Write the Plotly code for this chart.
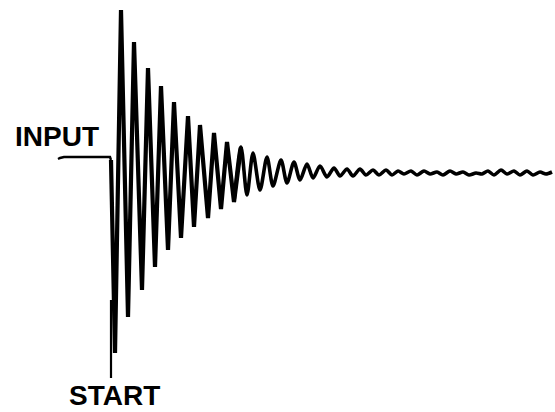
import plotly.graph_objects as go

# Trace, in picture units (x: time, y: deflection, down positive)
input_x = [58, 60, 64, 75, 90, 100, 110, 111]
input_y = [159, 158, 157, 157, 157.5, 157, 157, 160]

# Large oscillation extrema (trough / peak alternating)
main_x = [111, 115, 121, 128, 134, 142, 148, 155, 161, 168, 174, 181, 188, 194, 200,
          208, 214, 221, 227, 234, 241]
main_y = [160, 353, 10, 317, 42, 290, 68, 267, 86, 250, 102, 238, 116, 227, 125,
          218, 133, 209, 142, 202, 147]

# Decaying tail extrema
tail_x = [234, 241, 247, 253, 260, 267, 273, 281, 287, 294, 300, 307, 313, 320, 327,
          334, 340, 347, 353, 360, 366, 373, 379, 386, 392, 398, 404, 411, 417, 424,
          430, 437, 443, 450, 456, 463, 469, 476, 482, 488, 494, 501, 507, 514, 520,
          527, 533, 540, 546, 552]
tail_y = [202, 147, 195, 153, 190, 157, 186, 160, 183, 162, 180, 164, 178, 166, 177,
          168, 176, 169, 176, 169, 175, 170, 175, 170, 175, 171, 174, 171, 175, 171,
          174, 172, 175, 171, 174, 172, 175, 173, 174, 171, 175, 170, 174, 171, 175,
          171, 175, 172, 174, 172]

start_marker_x = [111, 111]
start_marker_y = [300, 378]

labels = ["INPUT", "START"]
label_x = [57, 114]
label_y = [136, 395]

fig = go.Figure()
fig.add_trace(go.Scatter(x=input_x, y=input_y, mode="lines",
                         line=dict(color="black", width=2.4)))
fig.add_trace(go.Scatter(x=main_x, y=main_y, mode="lines",
                         line=dict(color="black", width=4.2)))
fig.add_trace(go.Scatter(x=tail_x, y=tail_y, mode="lines",
                         line=dict(color="black", width=3.6, shape="spline", smoothing=0.8)))
fig.add_trace(go.Scatter(x=start_marker_x, y=start_marker_y, mode="lines",
                         line=dict(color="black", width=2.2)))

for t, xx, yy in zip(labels, label_x, label_y):
    fig.add_annotation(x=xx, y=yy, xref="x", yref="y", text="<b>" + t + "</b>", showarrow=False,
                       font=dict(family="Liberation Sans", size=28, color="black"),
                       xanchor="center", yanchor="middle")

fig.update_layout(
    width=555, height=412,
    margin=dict(l=0, r=0, t=0, b=0),
    paper_bgcolor="white", plot_bgcolor="white",
    showlegend=False,
    xaxis=dict(range=[0, 555], visible=False, fixedrange=True),
    yaxis=dict(range=[412, 0], visible=False, fixedrange=True),
)
fig.write_html("out.html", config={"displayModeBar": False},
               post_script="document.body.style.margin='0';document.body.style.padding='0';")
